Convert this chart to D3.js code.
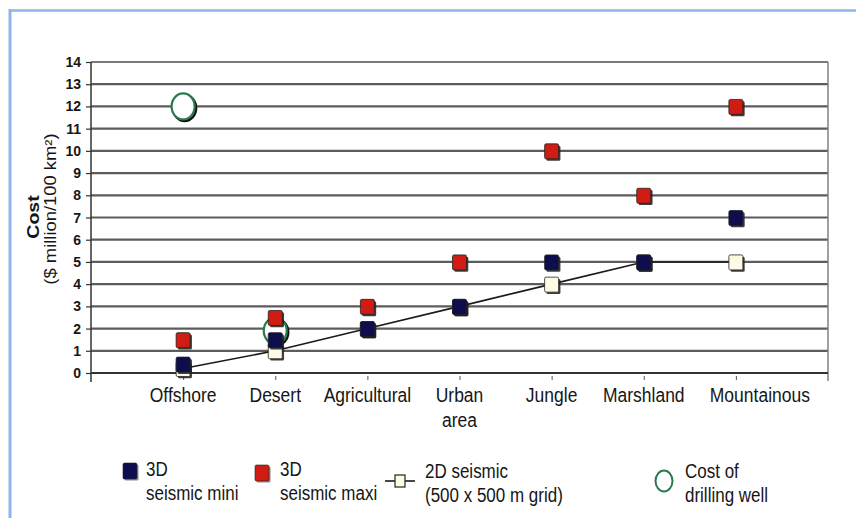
<!DOCTYPE html>
<html>
<head>
<meta charset="utf-8">
<script src="https://cdn.jsdelivr.net/npm/d3@7"></script>
<style>
  html, body { margin: 0; padding: 0; background: #fff; }
  svg { display: block; }
</style>
</head>
<body>
<svg id="chart"></svg>
<script>
// ── Data ─────────────────────────────────────────────
const categories  = ['Offshore', 'Desert', 'Agricultural', 'Urban area', 'Jungle', 'Marshland', 'Mountainous'];
const seismicMini = [0.4, 1.5, 2, 3, 5, 5, 7];
const seismicMaxi = [1.5, 2.5, 3, 5, 10, 8, 12];
const seismic2D   = [0.2, 1, 2, 3, 4, 5, 5];
const drillWell   = [{ cat: 'Offshore', v: 12 }, { cat: 'Desert', v: 1.9 }];
const yTicks      = d3.range(0, 15);

const W = 856, H = 518;
const FONT = "'Liberation Sans', Arial, Helvetica, sans-serif";
const STRETCH = 1.15;   // source image is a little taller than wide

const svg = d3.select('#chart').attr('width', W).attr('height', H);

// light blue frame (top + left)
svg.append('line').attr('x1', 10).attr('x2', W).attr('y1', 10.5).attr('y2', 10.5)
  .attr('stroke', '#8fb6ea').attr('stroke-width', 2.5);
svg.append('line').attr('x1', 10).attr('x2', 10).attr('y1', 9).attr('y2', H)
  .attr('stroke', '#8fb6ea').attr('stroke-width', 3);

// ── Scales ───────────────────────────────────────────
const plot = { left: 91, right: 828, top: 62, bottom: 373 };

const x = d3.scalePoint()
  .domain(categories)
  .range([plot.left, plot.right])
  .padding(1);

const y = d3.scaleLinear()
  .domain([0, 14])
  .range([plot.bottom, plot.top]);

// text helper: stretched a bit vertically like the scan
function label(sel, tx, ty, str, opts = {}) {
  return sel.append('text')
    .attr('transform', `translate(${tx},${ty}) scale(1,${opts.stretch || STRETCH})${opts.rotate ? ' rotate(-90)' : ''}`)
    .attr('text-anchor', opts.anchor || 'start')
    .attr('font-family', FONT)
    .attr('font-size', opts.size || 17)
    .attr('font-weight', opts.bold ? 'bold' : null)
    .attr('fill', '#161616')
    .text(str);
}

// ── Grid ─────────────────────────────────────────────
svg.append('g')
  .selectAll('line')
  .data(yTicks.filter(d => d > 0))
  .join('line')
    .attr('x1', plot.left).attr('x2', plot.right)
    .attr('y1', d => y(d)).attr('y2', d => y(d))
    .attr('stroke', d => d === 14 ? '#7a7a7a' : '#5c5c5c')
    .attr('stroke-width', 2.2);

// right frame of the plot area
svg.append('line')
  .attr('x1', plot.right).attr('x2', plot.right)
  .attr('y1', plot.top).attr('y2', plot.bottom + 8)
  .attr('stroke', '#808080').attr('stroke-width', 1.5);

// ── Axes ─────────────────────────────────────────────
const yAxis = svg.append('g')
  .attr('transform', `translate(${plot.left},0)`)
  .call(d3.axisLeft(y).tickValues(yTicks).tickSize(5).tickFormat(''));
yAxis.select('.domain').attr('d', `M0,${plot.top}V${plot.bottom + 9}`).attr('stroke', '#333').attr('stroke-width', 1.5);
yAxis.selectAll('.tick line').attr('stroke', '#333').attr('stroke-width', 1.2);

yTicks.forEach(t => label(svg, 81, y(t) + 5, String(t), { anchor: 'end', size: 14, bold: true, stretch: 1.1 }));

const xAxis = svg.append('g')
  .attr('transform', `translate(0,${plot.bottom})`)
  .call(d3.axisBottom(x).tickSize(7).tickFormat(''));
xAxis.select('.domain').attr('d', `M${plot.left},0H${plot.right}`).attr('stroke', '#333').attr('stroke-width', 2);
xAxis.selectAll('.tick line').attr('stroke', '#555').attr('stroke-width', 1).attr('y1', 3);

// label nudges (the last label sits right of its tick in the source)
const labelShift = { Mountainous: 24 };
categories.forEach(c => {
  const parts = c === 'Urban area' ? ['Urban', 'area'] : [c];
  parts.forEach((p, i) => label(svg, x(c) + (labelShift[c] || 0), 402 + i * 25, p, { anchor: 'middle', size: 17.5 }));
});

// y title
label(svg, 39, 217, 'Cost', { anchor: 'middle', size: 17, bold: true, rotate: true });
label(svg, 56, 209, '($ million/100 km\u00b2)', { anchor: 'middle', size: 16, rotate: true });

// ── Marks ────────────────────────────────────────────
const SQ = 14;

function squares(values, fill) {
  const g = svg.append('g');
  g.selectAll('.shadow')
    .data(values)
    .join('rect')
      .attr('class', 'shadow')
      .attr('x', (d, i) => x(categories[i]) - SQ / 2 + 1.8)
      .attr('y', d => y(d) - SQ / 2 + 1.8)
      .attr('width', SQ).attr('height', SQ + 1)
      .attr('rx', 1.5)
      .attr('fill', '#1c1c1c').attr('opacity', 0.85);
  g.selectAll('.mark')
    .data(values)
    .join('rect')
      .attr('class', 'mark')
      .attr('x', (d, i) => x(categories[i]) - SQ / 2)
      .attr('y', d => y(d) - SQ / 2)
      .attr('width', SQ).attr('height', SQ + 1)
      .attr('rx', 1.5)
      .attr('fill', fill)
      .attr('stroke', '#222').attr('stroke-width', 0.8);
}

// drilling well circles (behind squares)
const wells = svg.append('g');
wells.selectAll('.wshadow')
  .data(drillWell)
  .join('ellipse')
    .attr('cx', d => x(d.cat) + 1.5).attr('cy', d => y(d.v) + 1.5)
    .attr('rx', 11.5).attr('ry', 13)
    .attr('fill', '#fff').attr('stroke', '#111').attr('stroke-width', 2.4);
wells.selectAll('.well')
  .data(drillWell)
  .join('ellipse')
    .attr('cx', d => x(d.cat)).attr('cy', d => y(d.v))
    .attr('rx', 11.5).attr('ry', 13)
    .attr('fill', '#fff').attr('stroke', '#2a7a50').attr('stroke-width', 2.2);

// 2D seismic line + markers
svg.append('path')
  .datum(seismic2D)
  .attr('d', d3.line().x((d, i) => x(categories[i])).y(d => y(d)))
  .attr('fill', 'none').attr('stroke', '#1a1a1a').attr('stroke-width', 1.6);

squares(seismic2D, '#fdfbe4');
squares(seismicMini, '#0e0d4e');
squares(seismicMaxi, '#d01c12');

// ── Legend ───────────────────────────────────────────
const lg = svg.append('g');
const row1 = 476, row2 = 500;

function legendSquare(cx, cy, fill) {
  lg.append('rect').attr('x', cx - 7 + 1.5).attr('y', cy - 8 + 1.5).attr('width', 14).attr('height', 16)
    .attr('rx', 1.5).attr('fill', '#1c1c1c').attr('opacity', 0.5);
  lg.append('rect').attr('x', cx - 7).attr('y', cy - 8).attr('width', 14).attr('height', 16)
    .attr('rx', 1.5).attr('fill', fill).attr('stroke', '#222').attr('stroke-width', 0.6);
}

legendSquare(130, 471, '#0e0d4e');
label(lg, 146, row1, '3D', { size: 17 });
label(lg, 146, row2, 'seismic mini', { size: 17 });

legendSquare(262, 473, '#d01c12');
label(lg, 280, row1, '3D', { size: 17 });
label(lg, 280, row2, 'seismic maxi', { size: 17 });

lg.append('line').attr('x1', 385).attr('x2', 415).attr('y1', 481).attr('y2', 481)
  .attr('stroke', '#1a1a1a').attr('stroke-width', 1.6);
lg.append('rect').attr('x', 395).attr('y', 475).attr('width', 10).attr('height', 12)
  .attr('fill', '#fdfbe4').attr('stroke', '#222').attr('stroke-width', 1.2);
label(lg, 425, row1 + 2, '2D seismic', { size: 17 });
label(lg, 425, row2 + 2, '(500 x 500 m grid)', { size: 17 });

lg.append('ellipse').attr('cx', 664).attr('cy', 481).attr('rx', 8.5).attr('ry', 10.5)
  .attr('fill', 'none').attr('stroke', '#2a7a50').attr('stroke-width', 2);
label(lg, 685, row1 + 2, 'Cost of', { size: 17 });
label(lg, 685, row2 + 2, 'drilling well', { size: 17 });
</script>
</body>
</html>
